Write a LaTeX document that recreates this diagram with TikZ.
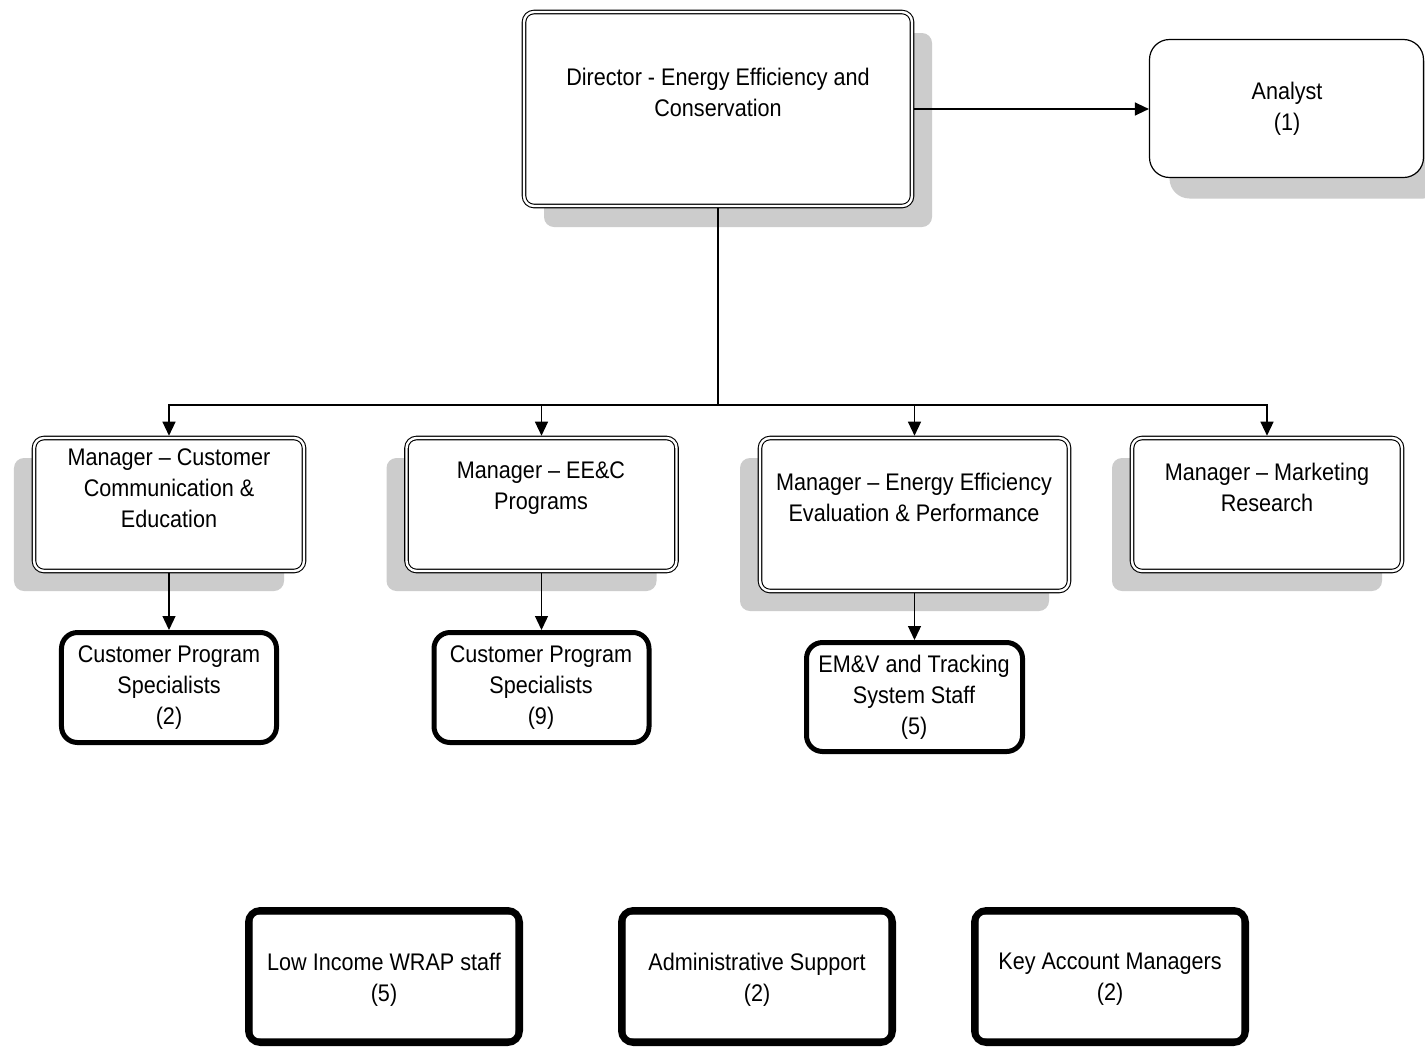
\documentclass[tikz,border=0pt]{standalone}
\usepackage{fontspec}
\setmainfont{Liberation Sans}[FakeStretch=0.9]
\usetikzlibrary{arrows.meta,shadows}
\tikzset{
  base/.style={inner sep=0pt, fill=white, draw=black},
  dbl/.style={base, double, double distance=2.4bp, line width=1.1bp, outer sep=2.3bp, rounded corners=10bp},
  rshadow/.style={drop shadow={shadow xshift=20bp, shadow yshift=-21bp, fill=black!20, opacity=1}},
  lshadow/.style={drop shadow={shadow xshift=-20bp, shadow yshift=-20bp, fill=black!20, opacity=1}},
  single/.style={base, line width=1.2bp, rounded corners=20bp},
  thickbox/.style={base, line width=5bp, rounded corners=16bp},
  heavybox/.style={base, line width=7bp, rounded corners=12bp},
  innerline/.style={draw=black, line width=1.1bp, rounded corners=4bp},
  txt/.style={align=center, inner sep=0pt, font=\fontsize{24bp}{31bp}\selectfont},
  conn/.style={line width=1.3bp},
  arr/.style={conn, -{Triangle[length=14bp,width=13bp]}},
}
\begin{document}
\begin{tikzpicture}[x=1bp,y=-1bp]
\useasboundingbox[fill=white] (0,0) rectangle (1425,1047);

% director and analyst
\node[dbl, rshadow, minimum width=388bp, minimum height=194bp] (dir) at (718,109) {};
\node[txt] (dirT) at (718,92.5) {Director - Energy Efficiency and\\Conservation};
\node[single, rshadow, minimum width=274bp, minimum height=138bp] (an) at (1286.5,108.5) {};
\node[txt] (anT) at (1287,109) {Analyst\\(1)};

% managers
\node[dbl, lshadow, minimum width=270bp, minimum height=133bp] (m1) at (169,504.5) {};
\node[txt] (m1T) at (169,488) {Manager – Customer\\Communication \&\\Education};
\node[dbl, lshadow, minimum width=270bp, minimum height=133bp] (m2) at (541.5,504.5) {};
\node[txt] (m2T) at (541,488) {Manager – EE\&C\\Programs};
\node[dbl, lshadow, minimum width=309bp, minimum height=153bp] (m3) at (914.5,514.5) {};
\node[txt] (m3T) at (914,497.5) {Manager – Energy Efficiency\\Evaluation \& Performance};
\node[dbl, lshadow, minimum width=270bp, minimum height=133bp] (m4) at (1267,504.5) {};
\node[txt] (m4T) at (1267,487.5) {Manager – Marketing\\Research};

% specialists
\node[thickbox, minimum width=215bp, minimum height=110bp] (s1) at (169,687.5) {};
\node[txt] (s1T) at (169,688) {Customer Program\\Specialists\\(2)};
\node[thickbox, minimum width=215bp, minimum height=110bp] (s2) at (541.5,687.5) {};
\node[txt] (s2T) at (541,688) {Customer Program\\Specialists\\(9)};
\node[thickbox, minimum width=216bp, minimum height=109bp] (s3) at (914.5,697) {};
\node[txt] (s3T) at (914,697.5) {EM\&V and Tracking\\System Staff\\(5)};

% bottom boxes
\node[heavybox, minimum width=271bp, minimum height=132bp] (b1) at (384,976.5) {};
\draw[innerline] ([shift={(7,7)}]b1.north west) rectangle ([shift={(-7,-7)}]b1.south east);
\node[txt] (b1T) at (384,979.5) {Low Income WRAP staff\\(5)};
\node[heavybox, minimum width=271bp, minimum height=132bp] (b2) at (757,976.5) {};
\draw[innerline] ([shift={(7,7)}]b2.north west) rectangle ([shift={(-7,-7)}]b2.south east);
\node[txt] (b2T) at (757,979.5) {Administrative Support\\(2)};
\node[heavybox, minimum width=271bp, minimum height=132bp] (b3) at (1110,976.5) {};
\draw[innerline] ([shift={(7,7)}]b3.north west) rectangle ([shift={(-7,-7)}]b3.south east);
\node[txt] (b3T) at (1110,979.5) {Key Account Managers\\(2)};

% connectors
\coordinate (bus) at (718,405);
\draw[arr] (dir.east) -- (dir.east -| an.west);
\draw[conn] (dir.south) -- (bus);
\draw[arr] (bus) -| (m1.north);
\draw[arr] (bus) -| (m2.north);
\draw[arr] (bus) -| (m3.north);
\draw[arr] (bus) -| (m4.north);
\draw[arr] (m1.south) -- (s1.north);
\draw[arr] (m2.south) -- (s2.north);
\draw[arr] (m3.south) -- (s3.north);
\end{tikzpicture}
\end{document}
